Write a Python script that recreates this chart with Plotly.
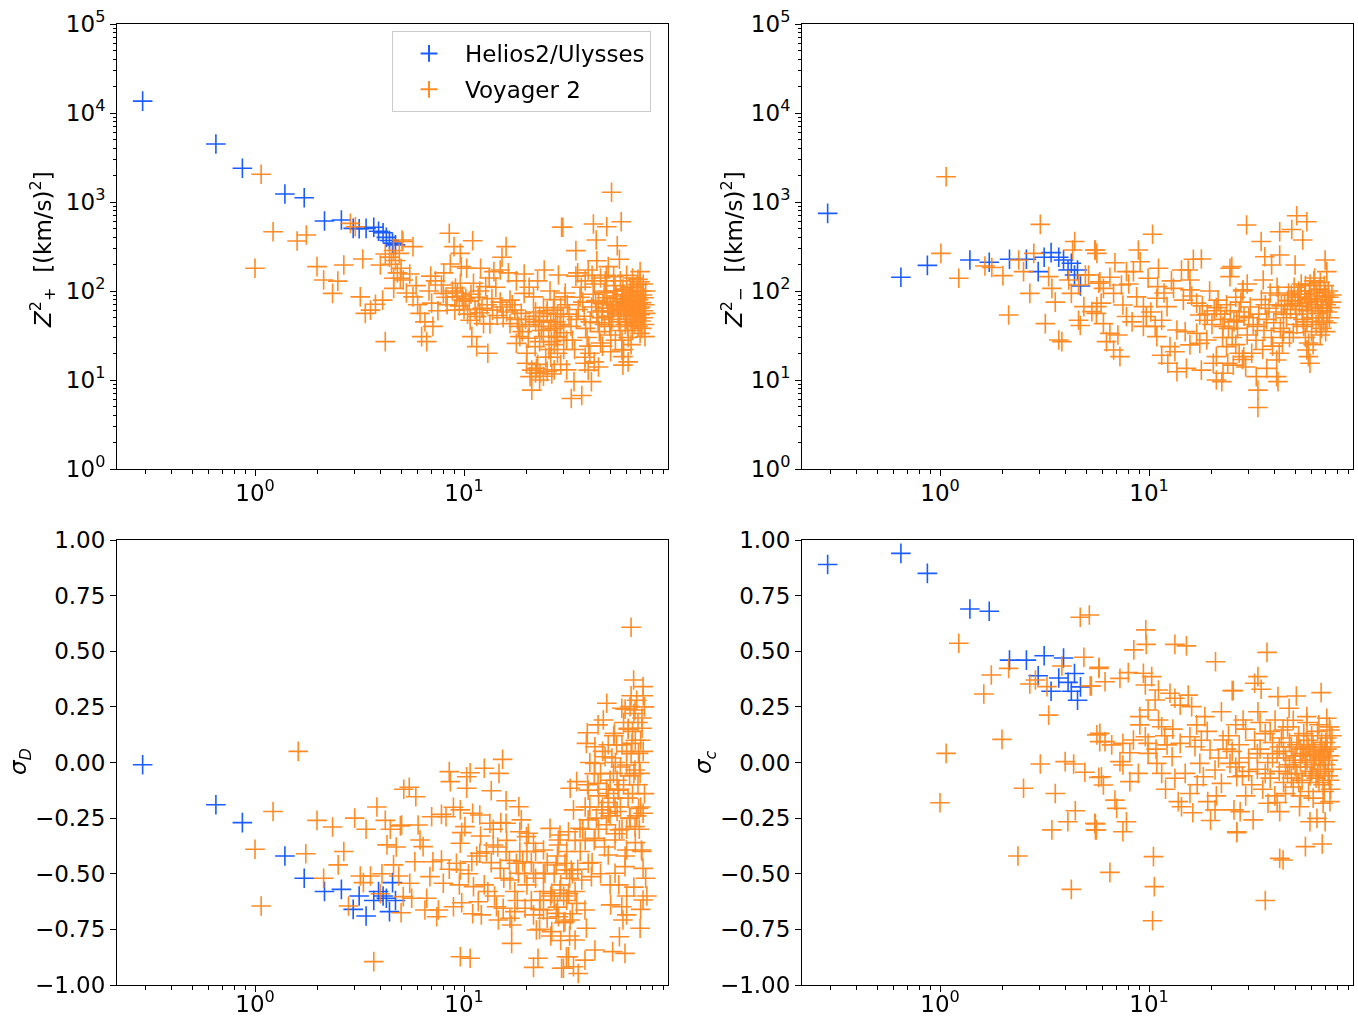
import plotly.graph_objects as go

# ---------------------------------------------------------------------------
# Data: heliocentric distance r [AU] and turbulence quantities
# ---------------------------------------------------------------------------
helios_r = [0.29, 0.65, 0.87, 1.39, 1.72, 2.15, 2.59, 2.95, 3.15, 3.4, 3.7,
            3.9, 4.1, 4.25, 4.4, 4.55, 4.7]
helios_zp2 = [13600, 4490, 2390, 1230, 1117, 612, 628, 506, 500, 506, 520,
              470, 452, 400, 370, 345, 330]
helios_zm2 = [746, 143, 194, 223, 210, 227, 227, 165, 239, 270, 239,
              223, 172, 205, 151, 172, 114]
helios_sigma_d = [-0.01, -0.19, -0.27, -0.42, -0.52, -0.58, -0.57, -0.66, -0.60,
                  -0.69, -0.62, -0.58, -0.60, -0.61, -0.67, -0.54, -0.62]
helios_sigma_c = [0.89, 0.94, 0.85, 0.69, 0.68, 0.46, 0.46, 0.39, 0.48, 0.32,
                  0.38, 0.47, 0.36, 0.32, 0.40, 0.28, 0.34]

# Voyager 2: (r [AU], Z+^2 [(km/s)^2])
voyager_zp2 = [
    (1.07, 2050), (1.00, 180), (1.22, 464), (1.59, 365), (1.76, 426), (1.98, 188),
    (2.13, 133), (2.49, 129), (2.35, 94), (2.66, 196), (2.86, 575), (3.02, 528),
    (3.28, 229), (3.19, 86), (3.37, 56), (3.57, 61), (3.77, 71), (3.98, 196),
    (4.08, 79), (4.20, 27), (4.61, 107), (4.96, 139), (5.05, 374), (4.20, 260),
    (4.40, 240), (4.70, 220), (4.90, 265), (4.60, 285), (4.50, 200), (4.80, 160),
    (5.00, 180), (4.61, 139),
    (8.5, 445), (8.96, 315), (11.0, 367), (5.7, 315), (5.1, 360), (9.6, 265),
    (8.6, 201), (9.7, 188), (10.3, 180), (15.9, 315), (15.2, 239), (13.9, 165),
    (14.9, 172), (19.4, 155), (24.2, 172), (28.3, 151), (29.3, 520), (6.93, 147),
    (5.5, 155), (5.12, 133), (7.8, 117), (9.6, 122), (11.1, 122), (12.7, 112),
    (5.7, 86), (7.0, 73), (6.16, 56), (6.5, 45), (7.1, 40), (6.27, 30.7),
    (6.63, 27), (7.96, 94), (9.2, 86), (9.9, 79), (9.04, 61), (10.7, 47),
    (11.5, 51.6), (12.4, 43), (13.3, 42.5), (10.9, 30.7), (11.5, 23.7), (13.0, 20),
    (14.9, 75), (16.6, 79), (17.5, 61), (16.6, 43), (18.2, 40), (18.5, 30.7),
    (17.8, 25.8), (20.3, 29.4), (21.9, 23.7), (24.0, 30.7), (25.4, 36.5), (27.6, 30.7),
    (21.5, 51.6), (24.0, 47), (26.8, 61), (29.9, 51.6), (30.4, 86), (19.9, 15.4),
    (21.1, 12.9), (22.2, 13.5), (23.1, 11.9), (20.7, 10.9), (21.1, 7.7), (26.3, 11.7),
    (19.4, 94), (21.5, 86),
    (8.8, 100), (9.3, 95), (9.8, 88), (10.2, 82), (10.6, 77), (8.3, 70), (9.5, 68),
    (10.0, 62), (10.4, 55), (11.3, 62), (11.9, 57), (12.2, 64), (10.8, 92), (9.1, 108),
    (8.2, 85), (11.7, 85), (12.9, 70), (13.7, 61), (14.4, 53), (15.4, 50), (16.0, 58),
    (13.6, 82), (15.2, 66), (17.0, 70), (18.8, 56), (19.7, 48), (20.5, 42), (22.8, 40),
    (23.5, 36), (22.0, 58), (25.0, 56), (27.5, 45), (28.8, 40), (26.2, 27), (23.0, 27),
    (19.0, 35), (20.0, 20), (24.6, 18), (22.5, 15), (25.5, 22), (27.0, 25), (28.0, 20),
    (18.0, 48), (7.5, 60), (6.0, 70), (6.8, 100), (5.9, 115), (5.3, 95), (7.3, 130),
    (8.0, 160), (12.0, 180), (13.2, 140), (16.3, 160), (17.8, 130), (14.2, 110),
    (11.9, 100), (22.5, 130), (25.8, 100), (20.5, 110), (29.0, 65), (27.0, 80),
    (25, 60), (26, 45), (27, 38), (28, 55), (29, 42), (30, 34), (31, 28), (24, 65),
    (23, 52), (22, 45), (28, 30), (30, 22), (26, 18), (29, 15), (31, 13), (27, 13),
    (24, 11), (25, 12.5), (23, 10), (22, 12),
    (50.8, 1285), (41.6, 566), (48.2, 528), (56.5, 600), (42.9, 374), (54.1, 323),
    (34.3, 284), (43.2, 219), (55.4, 227), (49.0, 188), (34.3, 147), (39.3, 172),
    (69.6, 165), (69.6, 127), (29.7, 520), (33.6, 9.6), (32.6, 6.2), (36.6, 6.7),
    (40.7, 9.6), (39.3, 12.9), (37.9, 15.4), (50.3, 20.8), (57.6, 14.7), (57.6, 18.3),
    (56.9, 21.7), (69.6, 33.4), (73.4, 30.7),
    (30.5, 95), (31.2, 70), (31.8, 55), (32.5, 40), (33.0, 28), (33.8, 22), (34.5, 48),
    (35.2, 62), (35.9, 85), (36.4, 110), (37.0, 75), (37.6, 52), (38.2, 38), (38.8, 30),
    (39.5, 24), (40.2, 45), (40.8, 66), (41.5, 92), (42.0, 120), (42.6, 78), (43.2, 58),
    (43.8, 44), (44.4, 35), (45.0, 26), (45.6, 50), (46.2, 72), (46.8, 96), (47.4, 130),
    (48.0, 84), (48.6, 64), (49.2, 52), (49.8, 40), (50.4, 32), (51.0, 58), (51.6, 76),
    (52.2, 100), (52.8, 115), (53.4, 88), (54.0, 68), (54.6, 55), (55.2, 45), (55.8, 36),
    (56.4, 62), (57.0, 80), (57.6, 105), (58.2, 92), (58.8, 72), (59.4, 58), (60.0, 48),
    (60.6, 40), (61.2, 66), (61.8, 84), (62.4, 110), (63.0, 96), (63.6, 78), (64.2, 62),
    (64.8, 52), (65.4, 44), (66.0, 70), (66.6, 88), (67.2, 118), (67.8, 100), (68.4, 80),
    (69.0, 64), (69.6, 54), (70.2, 46), (70.8, 74), (71.4, 90), (72.0, 60), (72.6, 84),
    (73.2, 70), (73.8, 56),
    (58, 60), (60, 75), (62, 68), (64, 90), (66, 58), (68, 72), (70, 66), (62, 52),
    (56, 70), (54, 82), (52, 64), (50, 70), (48, 100), (46, 60), (44, 75), (60, 100),
    (65, 110), (70, 100), (72, 50), (67, 48), (63, 45), (59, 42), (55, 54), (51, 48),
    (47, 42), (64, 36), (61, 30), (57, 28), (68, 40), (73, 42),
    (40, 20), (42, 16), (44, 14), (38, 18), (46, 24), (53, 28), (58, 22), (61, 16),
    (63, 25), (71, 38),
    (35, 160), (38, 130), (41, 150), (45, 140), (52, 145), (56, 130), (60, 150),
    (64, 140), (68, 135), (72, 120), (74, 100), (48, 150),
]

# Voyager 2: (r [AU], Z-^2 [(km/s)^2])
voyager_zm2 = [
    (1.07, 1925), (3.02, 561), (1.01, 265), (1.23, 139), (1.64, 191), (1.77, 184),
    (2.00, 149), (2.13, 53.7), (2.38, 223), (2.51, 165), (2.81, 265), (2.69, 94),
    (3.19, 43), (3.31, 145), (3.43, 107), (3.56, 75), (3.70, 28.1), (3.83, 27),
    (4.41, 360), (4.31, 289), (4.13, 133), (4.25, 94), (4.60, 117), (4.96, 151),
    (4.88, 66.7), (4.60, 47), (4.69, 41), (5.54, 289), (5.63, 265), (5.33, 58.6),
    (5.63, 66.7), (5.75, 122), (5.14, 151),
    (10.4, 434), (5.5, 289), (8.89, 289), (6.87, 208), (9.07, 213), (11.1, 180),
    (8.42, 165), (7.8, 165), (6.5, 143), (16.3, 227), (17.8, 229), (24.4, 180),
    (24.4, 145), (14.3, 172), (15.7, 133), (15.4, 172), (9.9, 139), (5.82, 127),
    (6.05, 107), (7.38, 117), (13.1, 107), (15.7, 103), (6.77, 94), (8.73, 86),
    (10.9, 83), (14.6, 79), (16.9, 73), (21.4, 79), (5.9, 73), (7.5, 69.6),
    (9.4, 66.7), (12.2, 66.7), (5.6, 56), (7.8, 51.6), (9.7, 51.6), (11.5, 47),
    (17.5, 53.7), (18.5, 47), (6.05, 43), (9.4, 40), (10.7, 40), (13.6, 36.5),
    (14.9, 35), (16.9, 33.4), (22.6, 40), (26.3, 47), (6.5, 33.4), (7.1, 32),
    (10.9, 30.7), (12.6, 23.7), (13.3, 20.8), (15.7, 24.8), (18.9, 28.1), (6.26, 27),
    (6.77, 21.7), (7.26, 18.3), (11.5, 19), (12.3, 15.4), (13.6, 12.4), (15.1, 13.5),
    (17.8, 12.9), (21.0, 18.3), (21.0, 10), (22.3, 9.6), (22.6, 11.9), (25.3, 14.7),
    (20.3, 15.4), (23.5, 23.7), (17.5, 25.8),
    (8.0, 120), (11.8, 95), (12.8, 130), (19.5, 100), (20.5, 60), (18.0, 68),
    (16.0, 88), (10.2, 58), (8.3, 45), (11.0, 112),
    (29.3, 552), (42.2, 464), (48.2, 491), (50.9, 701), (56.9, 600), (34.4, 360),
    (54.4, 374), (35.8, 243), (42.2, 254), (38.6, 196), (50.0, 196), (69.6, 223),
    (70.9, 165), (35.2, 133), (24.9, 188), (28.2, 103),
    (32.6, 10.9), (33.2, 7.7), (33.2, 4.9), (36.6, 13.5), (40.8, 10.9), (41.4, 9.6),
    (40.8, 16.8), (23.8, 15.4), (28.4, 18.3), (57.9, 18.3), (58.9, 15.4), (56.9, 21.7),
    (24.5, 60), (25.5, 45), (26.5, 38), (27.5, 75), (28.5, 52), (29.5, 32), (30.5, 66),
    (31.5, 42), (32.5, 28), (33.5, 55), (34.5, 80), (35.5, 36), (36.5, 48), (37.5, 64),
    (38.5, 30), (39.5, 44), (40.5, 58), (41.5, 90), (42.5, 38), (43.5, 26), (44.5, 70),
    (45.5, 50), (46.5, 95), (47.5, 62), (48.5, 78), (49.5, 110), (50.5, 55), (51.5, 85),
    (52.5, 68), (53.5, 120), (54.5, 48), (55.5, 92), (56.5, 74), (57.5, 60), (58.5, 100),
    (59.5, 82), (60.5, 50), (61.5, 130), (62.5, 70), (63.5, 88), (64.5, 56), (65.5, 105),
    (66.5, 64), (67.5, 80), (68.5, 46), (69.5, 95), (70.5, 70), (71.5, 58), (72.5, 85),
    (73.5, 65), (74.5, 75),
    (48, 90), (50, 72), (52, 100), (54, 62), (56, 115), (58, 80), (60, 66), (62, 95),
    (64, 76), (66, 125), (68, 60), (70, 88), (72, 100), (46, 78), (44, 55), (57, 45),
    (63, 42), (67, 38), (71, 44), (60, 35), (55, 40), (65, 50), (53, 85), (59, 120),
    (62, 140), (69, 115), (73, 50), (75, 90), (51, 42), (49, 34), (36, 70), (33, 40),
    (30, 50), (27, 58), (38, 95), (41, 110), (43, 68), (47, 30),
    (39, 24), (42, 20), (35, 22), (31, 20), (44, 35), (56, 30), (61, 25), (66, 32),
    (70, 35), (58, 26),
    (21, 65), (22, 55), (23, 48), (24, 38), (25, 30), (26, 25), (27, 20), (28, 17),
    (29, 14), (22.5, 30), (20, 42), (19, 55), (23.5, 70), (26, 85), (28, 100), (29.5, 120),
]

# Voyager 2: (r [AU], normalized residual energy sigma_D)
voyager_sigma_d = [
    (1.61, 0.05), (1.22, -0.22), (1.00, -0.39), (1.07, -0.645), (1.98, -0.26),
    (2.35, -0.29), (1.75, -0.41), (2.13, -0.52), (2.66, -0.40), (2.50, -0.46),
    (3.00, -0.25), (3.40, -0.30), (3.83, -0.20), (4.20, -0.26), (4.44, -0.30),
    (4.96, -0.285), (4.28, -0.37), (4.74, -0.38), (4.60, -0.46), (3.19, -0.51),
    (3.57, -0.51), (4.05, -0.50), (4.87, -0.51), (3.30, -0.54), (3.98, -0.59),
    (2.80, -0.645), (5.00, -0.675), (3.70, -0.895), (5.15, -0.12),
    (15.3, 0.014), (8.5, -0.041), (10.7, -0.046), (12.5, -0.026), (14.7, -0.049),
    (8.6, -0.086), (10.3, -0.064), (10.3, -0.116), (13.5, -0.127), (5.47, -0.111),
    (5.88, -0.154), (15.9, -0.172), (18.3, -0.199), (8.9, -0.201), (9.6, -0.213),
    (7.0, -0.244), (7.8, -0.233), (8.2, -0.244), (11.0, -0.228), (11.9, -0.236),
    (13.3, -0.273), (15.9, -0.273), (18.8, -0.258), (6.03, -0.281), (5.03, -0.281),
    (10.1, -0.288), (9.75, -0.315), (13.8, -0.300), (18.5, -0.311), (20.3, -0.318),
    (25.8, -0.296), (28.8, -0.326), (6.16, -0.348), (6.37, -0.378), (9.6, -0.363),
    (13.8, -0.371), (15.9, -0.401), (19.9, -0.333), (21.5, -0.363), (24.0, -0.393),
    (28.3, -0.371), (5.82, -0.446), (7.1, -0.446), (7.8, -0.438), (9.2, -0.453),
    (9.6, -0.483), (10.9, -0.446), (11.9, -0.408), (12.8, -0.401), (14.9, -0.476),
    (17.8, -0.453), (19.1, -0.446), (18.2, -0.498), (16.6, -0.528), (21.5, -0.498),
    (24.4, -0.498), (27.6, -0.461), (30.9, -0.483), (6.87, -0.513), (7.96, -0.543),
    (5.5, -0.543), (5.12, -0.603), (5.62, -0.610), (6.63, -0.610), (6.5, -0.663),
    (7.4, -0.693), (7.54, -0.663), (8.9, -0.648), (9.75, -0.630), (11.1, -0.558),
    (11.7, -0.626), (12.1, -0.685), (14.3, -0.648), (15.4, -0.655), (16.6, -0.700),
    (16.9, -0.730), (14.6, -0.708), (17.5, -0.670), (19.6, -0.655), (21.5, -0.685),
    (23.1, -0.618), (24.0, -0.663), (26.3, -0.588), (27.6, -0.678), (22.2, -0.753),
    (26.3, -0.760), (30.4, -0.715), (16.9, -0.813), (9.6, -0.873), (10.7, -0.880),
    (22.6, -0.880), (21.5, -0.921), (29.9, -0.925), (30.9, -0.873),
    (10.5, -0.50), (11.5, -0.42), (12.5, -0.55), (13.5, -0.45), (14.5, -0.38),
    (15.5, -0.52), (16.5, -0.44), (17.5, -0.58), (18.5, -0.40), (19.5, -0.50),
    (9.5, -0.55), (8.5, -0.48), (12.0, -0.33), (14.0, -0.60), (16.0, -0.35),
    (18.0, -0.62), (20.0, -0.40), (11.0, -0.68), (13.0, -0.58), (15.0, -0.27),
    (20, -0.55), (21, -0.62), (22, -0.52), (23, -0.66), (24, -0.58), (25, -0.70),
    (26, -0.60), (27, -0.50), (28, -0.65), (29, -0.55), (30, -0.72), (31, -0.62),
    (32, -0.52), (33, -0.68), (34, -0.58), (35, -0.48), (22, -0.40), (25, -0.45),
    (28, -0.42), (31, -0.40), (34, -0.35), (23, -0.75), (26, -0.78), (29, -0.80),
    (32, -0.78), (27, -0.62), (24, -0.50), (30, -0.60), (33, -0.50), (21, -0.45),
    (63.0, 0.608), (64.8, 0.371), (71.9, 0.341), (48.2, 0.266), (56.9, 0.244),
    (62.3, 0.251), (65.8, 0.236), (46.4, 0.191), (43.8, 0.169), (38.9, 0.134),
    (52.4, 0.131), (61.1, 0.154), (71.1, 0.154), (38.5, 0.086), (42.3, 0.071),
    (53.7, 0.079), (63.6, 0.086), (68.4, 0.041), (47.3, 0.026), (42.3, -0.004),
    (51.9, -0.049), (60.0, -0.011), (65.8, -0.034), (69.6, -0.049), (34.6, -0.086),
    (32.2, -0.116), (39.3, -0.124), (43.8, -0.094), (49.0, -0.139), (54.6, -0.124),
    (45.6, -0.213), (49.0, -0.228), (52.8, -0.199), (68.4, -0.206), (33.4, -0.213),
    (39.3, -0.258), (62.3, -0.251), (71.9, -0.228), (65.8, -0.288), (55.4, -0.303),
    (31.6, -0.311), (35.9, -0.296), (28.3, -0.348), (42.3, -0.341), (52.8, -0.348),
    (49.0, -0.416), (60.0, -0.393), (70.6, -0.393), (39.3, -0.453), (52.8, -0.498),
    (58.9, -0.468), (71.9, -0.476), (30.4, -0.453), (32.6, -0.483), (36.6, -0.528),
    (40.7, -0.513), (28.8, -0.573), (31.6, -0.588), (34.6, -0.633), (37.9, -0.663),
    (50.3, -0.640), (56.9, -0.648), (60.0, -0.685), (57.6, -0.708), (71.9, -0.618),
    (28.3, -0.693), (32.2, -0.708), (38.5, -0.745), (69.6, -0.745), (34.0, -0.798),
    (55.4, -0.783), (31.6, -0.873), (42.3, -0.843), (51.4, -0.850), (58.9, -0.858),
    (37.9, -0.888), (29.3, -0.925), (35.2, -0.948), (33.4, -0.918),
    (36, -0.40), (37, -0.30), (38, -0.20), (39, -0.10), (40, 0.00), (41, -0.45),
    (42, -0.35), (43, -0.25), (44, -0.15), (45, -0.05), (46, 0.05), (47, -0.38),
    (48, -0.28), (49, -0.18), (50, -0.08), (51, 0.02), (52, 0.12), (53, -0.32),
    (54, -0.22), (55, -0.12), (56, -0.02), (57, 0.08), (58, 0.18), (59, -0.42),
    (60, -0.30), (61, -0.16), (62, -0.06), (63, 0.04), (64, 0.14), (65, 0.22),
    (66, -0.36), (67, -0.24), (68, -0.10), (69, 0.00), (70, 0.10), (71, 0.20),
    (72, 0.30), (73, -0.14), (74, -0.52), (75, -0.60),
    (46, -0.20), (48, -0.12), (50, -0.24), (52, -0.16), (54, -0.08), (56, -0.20),
    (58, -0.10), (60, 0.05), (62, -0.25), (64, -0.14), (66, 0.10), (68, 0.18),
    (70, -0.20), (72, 0.05), (44, -0.30), (42, -0.05), (40, -0.20), (38, -0.35),
    (49, 0.08), (53, 0.00), (57, -0.30), (61, 0.15), (65, -0.05), (69, -0.30),
    (73, 0.25), (59, 0.24), (63, 0.30), (67, 0.28), (71, -0.40), (55, -0.55),
    (60, -0.60), (65, -0.56), (70, -0.66), (50, -0.55), (45, -0.50),
]

# Voyager 2: (r [AU], normalized cross helicity sigma_c)
voyager_sigma_c = [
    (4.69, 0.653), (5.18, 0.663), (1.23, 0.536), (1.76, 0.393), (2.13, 0.423),
    (1.62, 0.308), (4.88, 0.473), (5.75, 0.423), (2.69, 0.353), (2.86, 0.371),
    (3.25, 0.341), (3.83, 0.434), (5.23, 0.344), (3.31, 0.213), (1.98, 0.104),
    (1.07, 0.041), (1.00, -0.181), (3.02, -0.007), (3.97, 0.004), (4.36, -0.007),
    (4.93, -0.044), (5.75, -0.067), (5.63, 0.124), (5.81, 0.094), (2.51, -0.116),
    (3.56, -0.139), (4.44, -0.217), (4.09, -0.266), (3.43, -0.303), (5.54, -0.276),
    (5.54, -0.303), (2.36, -0.420), (4.25, -0.570),
    (9.65, 0.596), (9.7, 0.531), (8.46, 0.506), (13.3, 0.531), (15.1, 0.524),
    (20.8, 0.453), (25.0, 0.323), (5.78, 0.428), (7.96, 0.404), (7.26, 0.378),
    (6.16, 0.363), (5.3, 0.344), (9.4, 0.401), (10.3, 0.386), (9.6, 0.348),
    (11.1, 0.326), (13.3, 0.289), (14.1, 0.258), (15.4, 0.303), (16.0, 0.251),
    (12.6, 0.311), (10.7, 0.281), (9.9, 0.236), (9.04, 0.206), (11.1, 0.191),
    (11.5, 0.161), (9.04, 0.169), (18.5, 0.206), (22.2, 0.228), (5.82, 0.131),
    (6.16, 0.094), (6.63, 0.079), (7.5, 0.086), (8.42, 0.101), (9.6, 0.116),
    (9.9, 0.086), (9.9, 0.041), (8.1, 0.044), (7.26, 0.004), (7.5, -0.011),
    (10.9, -0.004), (11.5, -0.049), (12.2, 0.079), (12.9, 0.026), (14.1, 0.086),
    (14.9, -0.049), (13.3, -0.071), (15.7, 0.116), (16.9, 0.169), (16.6, 0.071),
    (17.5, -0.004), (18.2, -0.064), (19.6, 0.056), (20.7, -0.034), (22.2, -0.094),
    (22.6, 0.101), (24.4, -0.004), (26.3, -0.064), (5.92, -0.064), (6.05, -0.101),
    (8.1, -0.086), (8.89, -0.049), (6.87, -0.169), (7.0, -0.206), (5.5, -0.273),
    (5.6, -0.303), (7.8, -0.266), (7.5, -0.311), (15.7, -0.139), (13.8, -0.176),
    (14.3, -0.199), (16.2, -0.226), (19.1, -0.176), (20.7, -0.213), (19.7, -0.261),
    (25.5, -0.213), (26.3, -0.311), (10.5, -0.423), (6.5, -0.494), (10.6, -0.558),
    (10.4, -0.711),
    (10.8, 0.06), (11.9, 0.12), (13.0, 0.15), (17.8, 0.10), (19.0, 0.14),
    (21.5, 0.02), (23.5, 0.06), (12.0, -0.12), (17.0, -0.10), (21.0, -0.15),
    (36.7, 0.495), (33.2, 0.386), (34.4, 0.329), (32.0, 0.356), (25.3, 0.323),
    (41.4, 0.296), (50.7, 0.299), (66.6, 0.314), (46.8, 0.244), (33.2, 0.228),
    (40.1, 0.191), (56.9, 0.206), (70.9, 0.199), (28.2, 0.191), (43.8, 0.146),
    (73.4, 0.146), (27.3, -0.221), (31.5, -0.258), (37.1, -0.183), (42.2, -0.221),
    (52.5, -0.199), (58.9, -0.266), (63.6, -0.251), (69.6, -0.266), (68.1, -0.183),
    (73.4, -0.176), (26.3, -0.315), (56.0, -0.378), (67.4, -0.366), (42.2, -0.431),
    (43.8, -0.438), (36.0, -0.620),
    (24, 0.12), (25, 0.05), (26, -0.02), (27, 0.08), (28, -0.06), (29, 0.15),
    (30, 0.02), (31, -0.10), (32, 0.10), (33, -0.03), (34, 0.06), (35, -0.12),
    (36, 0.13), (37, 0.00), (38, -0.07), (39, 0.09), (40, -0.15), (41, 0.04),
    (42, -0.04), (43, 0.11), (44, -0.09), (45, 0.02), (46, 0.16), (47, -0.01),
    (48, 0.07), (49, -0.11), (50, 0.03), (51, -0.05), (52, 0.12), (53, 0.00),
    (54, -0.08), (55, 0.06), (56, -0.02), (57, 0.10), (58, -0.13), (59, 0.04),
    (60, -0.04), (61, 0.08), (62, 0.01), (63, -0.07), (64, 0.14), (65, 0.02),
    (66, -0.03), (67, 0.09), (68, -0.10), (69, 0.05), (70, -0.01), (71, 0.11),
    (72, -0.06), (73, 0.03), (74, 0.07), (75, -0.03),
    (44, 0.05), (47, 0.09), (50, -0.02), (53, 0.06), (56, 0.03), (59, -0.06),
    (62, 0.05), (65, -0.09), (68, 0.02), (71, 0.06), (46, -0.05), (49, 0.01),
    (52, -0.09), (55, 0.13), (58, 0.07), (61, -0.01), (64, -0.05), (67, 0.04),
    (70, 0.09), (73, -0.08), (57, 0.01), (60, 0.12), (63, 0.03), (66, 0.07),
    (69, -0.04), (72, 0.01), (54, 0.04), (51, 0.08), (48, -0.07), (45, -0.02),
    (42, 0.07), (39, 0.02), (36, -0.05), (33, 0.04), (30, -0.04), (27, 0.00),
    (26, 0.17), (29, -0.15), (34, 0.18), (38, 0.14), (41, -0.18), (45, -0.14),
    (49, 0.19), (53, -0.15), (57, 0.18), (61, -0.16), (65, 0.17), (69, -0.13),
    (73, 0.16), (75, 0.12), (74, -0.12),
]

# Axis labels and ticks
x_tickvals = [1, 10]
x_ticktext = ["10<sup>0</sup>", "10<sup>1</sup>"]
x_minor = [0.3, 0.4, 0.5, 0.6, 0.7, 0.8, 0.9, 2, 3, 4, 5, 6, 7, 8, 9,
           20, 30, 40, 50, 60, 70, 80, 90]
z_tickvals = [1, 10, 100, 1000, 10000, 100000]
z_ticktext = ["10<sup>%d</sup>" % k for k in range(6)]
z_minor = [m * 10 ** k for k in range(5) for m in range(2, 10)]
sigma_tickvals = [-1.0, -0.75, -0.5, -0.25, 0.0, 0.25, 0.5, 0.75, 1.0]

panel_titles = [
    "<i>Z</i><sup>2</sup><sub>+</sub>  [(km/s)<sup>2</sup>]",
    "<i>Z</i><sup>2</sup><sub>−</sub>  [(km/s)<sup>2</sup>]",
    "<i>σ<sub>D</sub></i>",
    "<i>σ<sub>c</sub></i>",
]

# ---------------------------------------------------------------------------
# Figure
# ---------------------------------------------------------------------------
W, H = 1358, 1019
BLUE = "#1a5cff"
ORANGE = "#ff7f0e"
FONT = "DejaVu Sans"

panels = [
    (helios_zp2, voyager_zp2),
    (helios_zm2, voyager_zm2),
    (helios_sigma_d, voyager_sigma_d),
    (helios_sigma_c, voyager_sigma_c),
]

fig = go.Figure()
for i, (h_vals, v_pts) in enumerate(panels):
    suffix = "" if i == 0 else str(i + 1)
    fig.add_trace(go.Scatter(
        x=helios_r, y=h_vals, mode="markers", name="Helios2/Ulysses",
        legendgroup="helios", xaxis="x" + suffix, yaxis="y" + suffix,
        showlegend=(i == 0),
        marker=dict(symbol="cross-thin", size=14, color=BLUE,
                    line=dict(width=1.6, color=BLUE)),
    ))
    fig.add_trace(go.Scatter(
        x=[p[0] for p in v_pts], y=[p[1] for p in v_pts], mode="markers",
        name="Voyager 2", legendgroup="voyager", xaxis="x" + suffix,
        yaxis="y" + suffix, showlegend=(i == 0), opacity=0.9,
        marker=dict(symbol="cross-thin", size=14, color=ORANGE,
                    line=dict(width=1.6, color=ORANGE)),
    ))

# axes boxes in pixels: (left, right, top, bottom)
boxes = [(117, 668, 24, 469), (802, 1353, 24, 469),
         (117, 668, 540, 985), (802, 1353, 540, 985)]
# extra shift of the x tick labels toward the axis, per row
x_label_standoff = [-3, -3, -8, -8]

axis_common = dict(showline=True, linecolor="black", linewidth=1, mirror=True,
                   ticks="outside", ticklen=6, tickwidth=1, tickcolor="black",
                   showgrid=False, zeroline=False, automargin=False,
                   tickfont=dict(family=FONT, size=23, color="black"))

layout = dict(width=W, height=H, margin=dict(l=0, r=0, t=0, b=0, pad=0),
              paper_bgcolor="white", plot_bgcolor="white",
              font=dict(family=FONT, color="black"))

for i, (l, r, t, b) in enumerate(boxes):
    suffix = "" if i == 0 else str(i + 1)
    xa = dict(axis_common, type="log", range=[-0.6603, 1.976],
              domain=[l / W, r / W], anchor="y" + suffix,
              tickmode="array", tickvals=x_tickvals, ticktext=x_ticktext,
              ticklabelstandoff=x_label_standoff[i],
              minor=dict(ticks="outside", ticklen=3.5, tickwidth=1,
                         tickcolor="black", tickmode="array", tickvals=x_minor))
    if i < 2:
        ya = dict(axis_common, type="log", range=[0, 5],
                  domain=[1 - b / H, 1 - t / H], anchor="x" + suffix,
                  tickmode="array", tickvals=z_tickvals, ticktext=z_ticktext,
                  minor=dict(ticks="outside", ticklen=3.5, tickwidth=1,
                             tickcolor="black", tickmode="array", tickvals=z_minor))
    else:
        ya = dict(axis_common, type="linear", range=[-1.0, 1.0],
                  domain=[1 - b / H, 1 - t / H], anchor="x" + suffix,
                  tickmode="array", tickvals=sigma_tickvals, tickformat=".2f")
    layout["xaxis" + suffix] = xa
    layout["yaxis" + suffix] = ya

# y-axis titles placed beside each panel
title_pos = [(42, 250), (733, 250), (20, 762), (705, 762)]
annotations = []
for (px, py), text in zip(title_pos, panel_titles):
    annotations.append(dict(
        x=px / W, y=1 - py / H, xref="paper", yref="paper", text=text,
        showarrow=False, textangle=-90, xanchor="center", yanchor="middle",
        font=dict(family=FONT, size=23, color="black")))
layout["annotations"] = annotations

layout["legend"] = dict(
    x=392 / W, y=1 - 31 / H, xanchor="left", yanchor="top",
    bgcolor="white", bordercolor="#cccccc", borderwidth=1,
    font=dict(family=FONT, size=23, color="black"),
    itemsizing="constant", itemwidth=62, tracegroupgap=3)

fig.update_layout(**layout)
fig.write_html("out.html")
